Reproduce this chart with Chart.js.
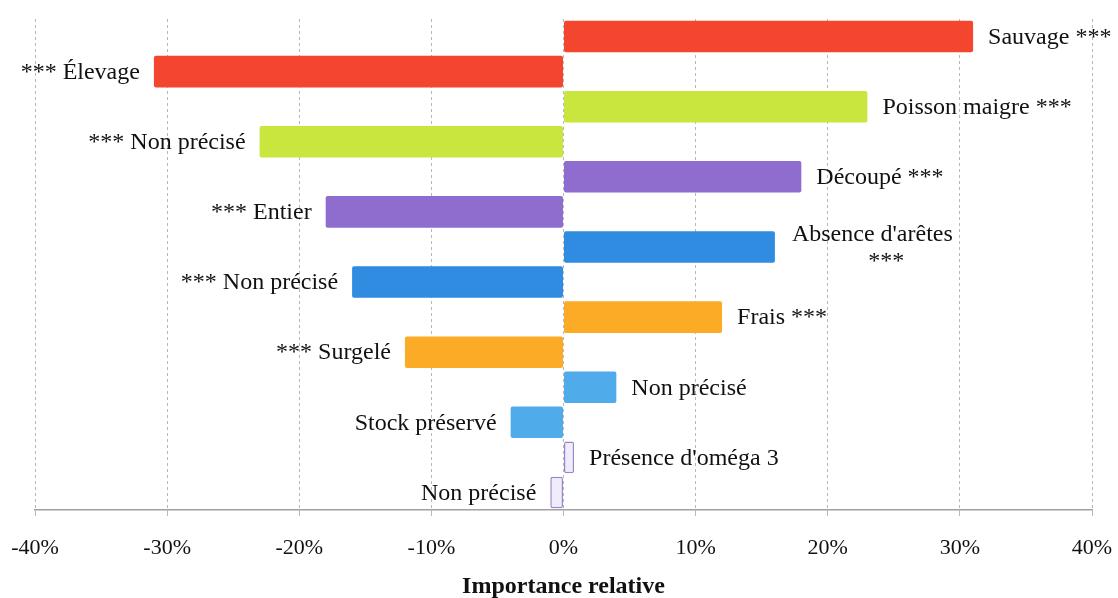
<!DOCTYPE html>
<html>
<head>
<meta charset="utf-8">
<script src="https://cdn.jsdelivr.net/npm/chart.js@4/dist/chart.umd.min.js"></script>
<style>
  html, body { margin: 0; padding: 0; background: #fff; }
  #wrap { width: 1118px; height: 598px; }
</style>
</head>
<body>
<div id="wrap"><canvas id="chart"></canvas></div>
<script>
// Attribute levels, top to bottom; an array means the label wraps
const categories = [
    'Sauvage ***', '*** Élevage',
    'Poisson maigre ***', '*** Non précisé',
    'Découpé ***', '*** Entier',
    ["Absence d'arêtes", '***'], '*** Non précisé',
    'Frais ***', '*** Surgelé',
    'Non précisé', 'Stock préservé',
    "Présence d'oméga 3", 'Non précisé',
];
// Relative importance, in percent
const importance = [31, -31, 23, -23, 18, -18, 16, -16, 12, -12, 4, -4, 0.8, -1];
const xTicks = [-40, -30, -20, -10, 0, 10, 20, 30, 40];

const FILLS = [
    '#f4462e', '#f4462e', '#c9e63e', '#c9e63e', '#8e6dcf', '#8e6dcf',
    '#2f8ce0', '#2f8ce0', '#fbab26', '#fbab26', '#4fabea', '#4fabea',
    '#f1ecfb', '#f1ecfb',
];
const BORDERS = FILLS.map((c, i) => (i >= 12 ? '#9a86c9' : c));
const SERIF = '"Liberation Serif", "Times New Roman", serif';

// Write each level's name beside the end of its bar.
const barLabels = {
    id: 'barLabels',
    afterDatasetsDraw(chart) {
        const { ctx } = chart;
        const meta = chart.getDatasetMeta(0);
        ctx.save();
        ctx.font = '24px ' + SERIF;
        ctx.fillStyle = '#111';
        ctx.textBaseline = 'middle';
        meta.data.forEach((bar, i) => {
            const label = categories[i];
            const positive = importance[i] >= 0;
            if (Array.isArray(label)) {
                const w = Math.max(...label.map((t) => ctx.measureText(t).width));
                ctx.textAlign = 'center';
                const cx = bar.x + 17 + w / 2;
                ctx.fillText(label[0], cx, bar.y - 12);
                ctx.fillText(label[1], cx + 14, bar.y + 15);
                return;
            }
            ctx.textAlign = positive ? 'left' : 'right';
            ctx.fillText(label, positive ? bar.x + 15 : bar.x - 14, bar.y + 1);
        });
        ctx.restore();
    },
};

new Chart(document.getElementById('chart'), {
    type: 'bar',
    data: {
        labels: categories,
        datasets: [{
            data: importance,
            backgroundColor: FILLS,
            borderColor: BORDERS,
            borderWidth: (c) => (c.dataIndex >= 12 ? 1.5 : 0),
            borderRadius: 2,
            borderSkipped: false,
            categoryPercentage: 1,
            barPercentage: 0.9,
        }],
    },
    options: {
        indexAxis: 'y',
        responsive: true,
        maintainAspectRatio: false,
        animation: false,
        layout: { padding: { top: 19, left: 35, right: 26, bottom: 0 } },
        plugins: {
            legend: { display: false },
            tooltip: { enabled: false },
        },
        scales: {
            x: {
                min: -40,
                max: 40,
                afterBuildTicks: (axis) => { axis.ticks = xTicks.map((v) => ({ value: v })); },
                // pin the plot box: no extra room for the end labels, fixed axis band
                afterFit: (axis) => {
                    axis.paddingLeft = 0;
                    axis.paddingRight = 0;
                    axis.height = 88;
                },
                ticks: {
                    callback: (v) => v + '%',
                    color: '#111',
                    padding: 21,
                    font: { family: SERIF, size: 22, lineHeight: 1 },
                },
                grid: { color: '#b8b8b8', lineWidth: 1, tickLength: 6 },
                border: { display: true, color: '#a0a0a0', width: 1.5, dash: [3, 3] },
                title: {
                    display: true,
                    text: 'Importance relative',
                    color: '#111',
                    padding: { top: 0, bottom: -1 },
                    font: { family: SERIF, size: 24, weight: 'bold', lineHeight: 1 },
                },
            },
            y: { display: false },
        },
    },
    plugins: [barLabels],
});
</script>
</body>
</html>
